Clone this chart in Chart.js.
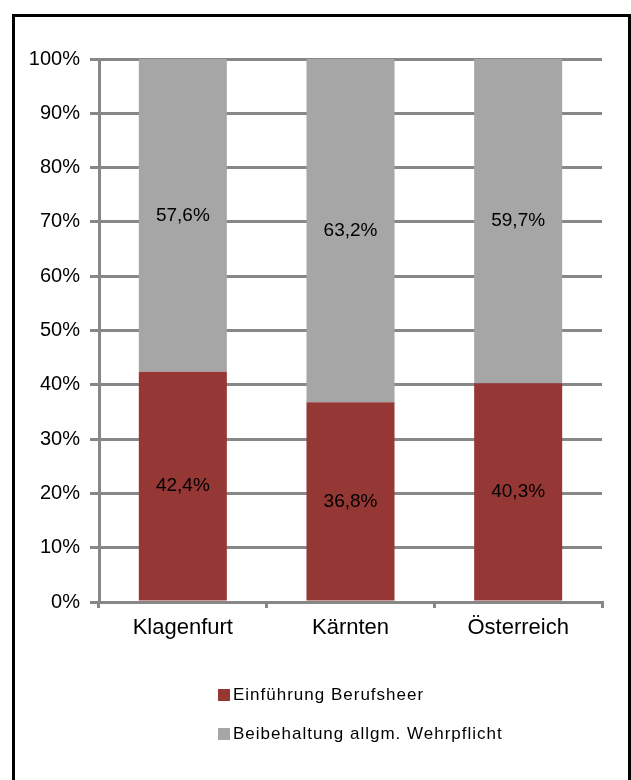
<!DOCTYPE html>
<html>
<head>
<meta charset="utf-8">
<script src="https://cdn.jsdelivr.net/npm/chart.js@4"></script>
<style>
  html, body { margin: 0; padding: 0; overflow: hidden; background: #fff; }
  #wrap { position: relative; width: 631px; height: 780px; }
  #frame { position: absolute; left: 12px; top: 14px; width: 619px; height: 800px;
           box-sizing: border-box; border: 3px solid #000; pointer-events: none; }
  canvas { position: absolute; left: 0; top: 0; }
</style>
</head>
<body>
<div id="wrap">
  <canvas id="barChart" width="631" height="780"></canvas>
  <div id="frame"></div>
</div>
<script>
const regionen = ['Klagenfurt', 'Kärnten', 'Österreich'];
const berufsheer = [42.4, 36.8, 40.3];
const wehrpflicht = [57.6, 63.2, 59.7];
const serienNamen = ['Einführung Berufsheer', 'Beibehaltung allgm. Wehrpflicht'];

const rot = '#953735';
const grau = '#A6A6A6';
const linie = '#878787';

// Werte in die Balken schreiben
const wertLabels = {
  id: 'wertLabels',
  afterDatasetsDraw(chart) {
    const ctx = chart.ctx;
    ctx.save();
    ctx.font = '19px "Liberation Sans", Arial, sans-serif';
    ctx.fillStyle = '#000';
    ctx.textAlign = 'center';
    ctx.textBaseline = 'middle';
    chart.data.datasets.forEach((ds, i) => {
      chart.getDatasetMeta(i).data.forEach((bar, j) => {
        const txt = ds.data[j].toFixed(1).replace('.', ',') + '%';
        ctx.fillText(txt, bar.x, (bar.y + bar.base) / 2);
      });
    });
    ctx.restore();
  }
};

// Legende untereinander, unter der Grafik
const legendeUnten = {
  id: 'legendeUnten',
  afterDraw(chart) {
    const ctx = chart.ctx;
    ctx.save();
    ctx.font = '17px "Liberation Sans", Arial, sans-serif';
    ctx.textBaseline = 'middle';
    ctx.textAlign = 'left';
    if ('letterSpacing' in ctx) ctx.letterSpacing = '1px';
    chart.data.datasets.forEach((ds, i) => {
      const y = 695 + i * 39;
      ctx.fillStyle = ds.backgroundColor;
      ctx.fillRect(218, y - 6, 12, 12);
      ctx.fillStyle = '#000';
      ctx.fillText(ds.label, 233, y);
    });
    ctx.restore();
  }
};

new Chart(document.getElementById('barChart'), {
  type: 'bar',
  data: {
    labels: regionen,
    datasets: [
      { label: serienNamen[0], data: berufsheer, backgroundColor: rot },
      { label: serienNamen[1], data: wehrpflicht, backgroundColor: grau }
    ]
  },
  options: {
    responsive: false,
    animation: false,
    categoryPercentage: 1,
    barPercentage: 0.525,
    layout: { padding: { top: 59, right: 29, left: 0, bottom: 0 } },
    plugins: {
      legend: { display: false },
      tooltip: { enabled: false }
    },
    scales: {
      x: {
        stacked: true,
        afterFit(scale) { scale.height = 178; },
        grid: { drawOnChartArea: false, drawTicks: true, tickLength: 6, color: linie, lineWidth: 3 },
        border: { color: linie, width: 3 },
        ticks: { color: '#000', padding: 7, font: { family: '"Liberation Sans", Arial, sans-serif', size: 22 } }
      },
      y: {
        stacked: true,
        min: 0,
        max: 100,
        afterFit(scale) { scale.width = 99; },
        grid: { color: linie, lineWidth: 3, tickLength: 9 },
        border: { color: linie, width: 3 },
        ticks: {
          stepSize: 10,
          padding: 10,
          color: '#000',
          font: { family: '"Liberation Sans", Arial, sans-serif', size: 20 },
          callback: v => v + '%'
        }
      }
    }
  },
  plugins: [wertLabels, legendeUnten]
});
</script>
</body>
</html>
